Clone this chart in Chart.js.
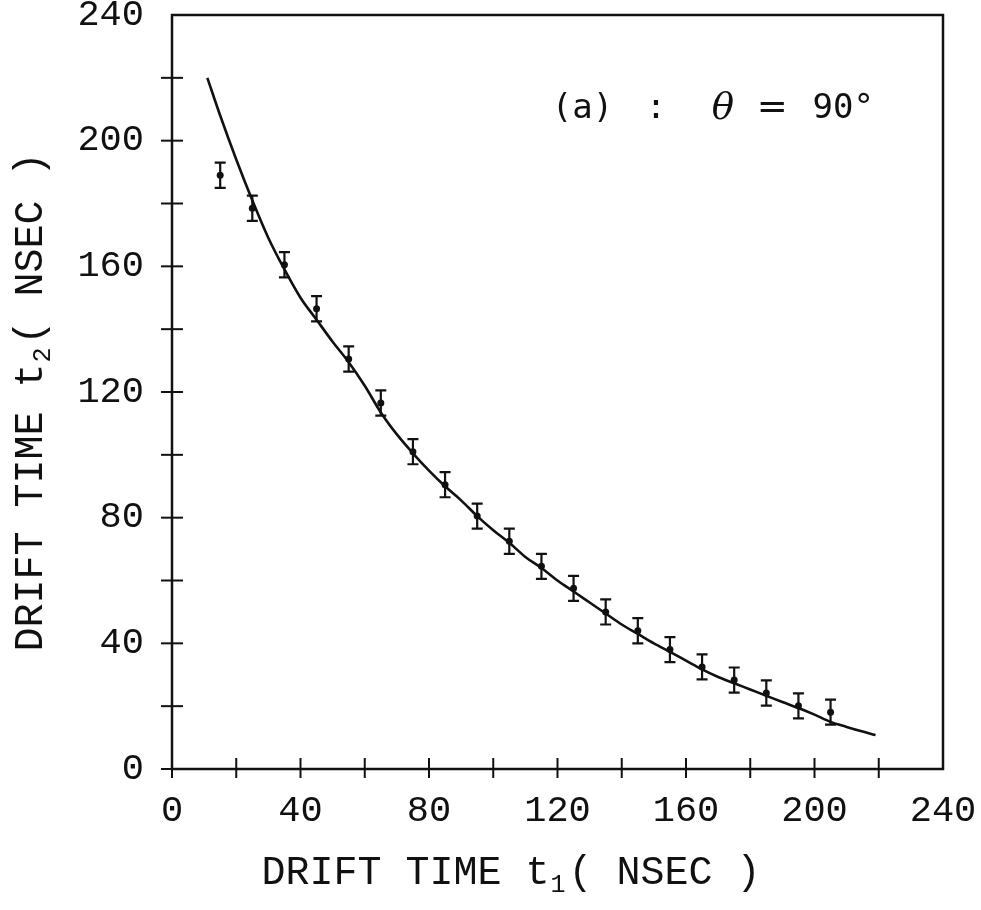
<!DOCTYPE html>
<html>
<head>
<meta charset="utf-8">
<script src="https://cdn.jsdelivr.net/npm/chart.js@4.4.1/dist/chart.umd.min.js"></script>
<style>
  html, body { margin: 0; padding: 0; background: #fff; }
  canvas { display: block; }
</style>
</head>
<body>
<canvas id="drift-chart" width="981" height="910"></canvas>
<script>
// measured points (t1, t2) with error bars
const t1Points = [15, 25, 35, 45, 55, 65, 75, 85, 95, 105, 115, 125, 135, 145, 155, 165, 175, 185, 195, 205];
const t2Points = [189, 178.5, 160.5, 146.5, 130.5, 116.5, 101, 90.5, 80.5, 72.5, 64.5, 57.5, 50, 44, 38, 32.5, 28.3, 24.2, 20.1, 18.1];
const t2Errors = [4, 4, 4, 4, 4, 4, 4, 4, 4, 4, 4, 4, 4, 4, 4, 4, 4, 4, 4, 4];

// fitted curve
const curveT1 = [11, 15, 20, 25, 30, 35, 40, 45, 50, 55, 60, 65, 70, 75, 80, 85, 90, 95, 100, 105, 110, 115, 120, 125, 130, 135, 140, 145, 150, 155, 160, 165, 170, 175, 180, 185, 190, 195, 200, 205, 210, 215, 219];
const curveT2 = [220, 208, 194, 181, 169, 159, 150, 143, 136, 129.5, 122, 113.5, 106.5, 100.5, 95, 90, 85.5, 80.5, 76, 72, 67.5, 64, 60, 56.5, 53, 49.5, 46, 43, 40, 37.3, 34.5, 31.7, 29.3, 27.3, 25.3, 23.3, 21.3, 19.4, 17.3, 15, 13.4, 11.9, 10.8];

const tickValues = [0, 20, 40, 60, 80, 100, 120, 140, 160, 180, 200, 220, 240];
const tickLabels = ['0', '', '40', '', '80', '', '120', '', '160', '', '200', '', '240'];

const xTitle = ['DRIFT TIME t', '1', '( NSEC )'];
const yTitle = ['DRIFT TIME t', '2', '( NSEC )'];

const MONO = '"Liberation Mono", "DejaVu Sans Mono", monospace';
const INK = '#111';

const pointData = t1Points.map((x, i) => ({ x: x, y: t2Points[i] }));
const curveData = curveT1.map((x, i) => ({ x: x, y: curveT2[i] }));

// frame + crossing tick marks
const framePlugin = {
    id: 'frame',
    afterDraw(chart) {
        const { ctx, chartArea, scales } = chart;
        ctx.save();
        ctx.strokeStyle = INK;
        ctx.lineWidth = 2.5;
        ctx.strokeRect(chartArea.left, chartArea.top, chartArea.right - chartArea.left, chartArea.bottom - chartArea.top);
        ctx.lineWidth = 2;
        tickValues.forEach(v => {
            if (v === 240) return;
            const px = scales.x.getPixelForValue(v);
            ctx.beginPath();
            ctx.moveTo(px, chartArea.bottom - 11);
            ctx.lineTo(px, chartArea.bottom + 9);
            ctx.stroke();
            const py = scales.y.getPixelForValue(v);
            ctx.beginPath();
            ctx.moveTo(chartArea.left - 11, py);
            ctx.lineTo(chartArea.left + 11, py);
            ctx.stroke();
        });
        ctx.restore();
    }
};

// vertical error bars with caps
const errorBarPlugin = {
    id: 'errorBars',
    afterDatasetsDraw(chart) {
        const { ctx, scales } = chart;
        const meta = chart.getDatasetMeta(0);
        ctx.save();
        ctx.strokeStyle = INK;
        ctx.lineWidth = 2.2;
        meta.data.forEach((pt, i) => {
            const x = pt.x;
            const yHi = scales.y.getPixelForValue(t2Points[i] + t2Errors[i]);
            const yLo = scales.y.getPixelForValue(t2Points[i] - t2Errors[i]);
            ctx.beginPath();
            ctx.moveTo(x, yHi);
            ctx.lineTo(x, yLo);
            ctx.moveTo(x - 5.5, yHi);
            ctx.lineTo(x + 5.5, yHi);
            ctx.moveTo(x - 5.5, yLo);
            ctx.lineTo(x + 5.5, yLo);
            ctx.stroke();
        });
        ctx.restore();
    }
};

// axis titles with subscripts + the panel label
function drawSubTitle(ctx, parts, cx, cy) {
    const big = '40px ' + MONO;
    const small = '25px ' + MONO;
    ctx.font = big;
    const w0 = ctx.measureText(parts[0]).width;
    const w2 = ctx.measureText(parts[2]).width;
    ctx.font = small;
    const w1 = ctx.measureText(parts[1]).width + 4;
    let x = cx - (w0 + w1 + w2) / 2;
    ctx.textBaseline = 'alphabetic';
    ctx.textAlign = 'left';
    ctx.font = big;
    ctx.fillText(parts[0], x, cy);
    x += w0;
    ctx.font = small;
    ctx.fillText(parts[1], x + 1, cy + 8);
    x += w1;
    ctx.font = big;
    ctx.fillText(parts[2], x, cy);
}

const textPlugin = {
    id: 'texts',
    afterDraw(chart) {
        const { ctx, scales } = chart;
        ctx.save();
        ctx.fillStyle = INK;
        drawSubTitle(ctx, xTitle, 511, 884);
        ctx.save();
        ctx.translate(42, 402);
        ctx.rotate(-Math.PI / 2);
        drawSubTitle(ctx, yTitle, 0, 0);
        ctx.restore();

        const ty = scales.y.getPixelForValue(210);
        ctx.textBaseline = 'middle';
        ctx.textAlign = 'left';
        ctx.font = '34px "DejaVu Sans Mono", monospace';
        ctx.fillText('(a)', scales.x.getPixelForValue(118.2), ty);
        ctx.fillText(':', scales.x.getPixelForValue(147.5), ty);
        ctx.font = 'italic 37px "DejaVu Serif", serif';
        ctx.fillText('\u03B8', scales.x.getPixelForValue(168), ty);
        ctx.font = '37px "DejaVu Serif", serif';
        ctx.fillText('=', scales.x.getPixelForValue(182), ty);
        ctx.font = '34px "DejaVu Sans Mono", monospace';
        ctx.fillText('90\u00B0', scales.x.getPixelForValue(199.4), ty);
        ctx.restore();
    }
};

function noEdgePadding(scale) {
    scale.paddingTop = 0;
    scale.paddingBottom = 0;
    scale.paddingLeft = 0;
    scale.paddingRight = 0;
}

new Chart(document.getElementById('drift-chart').getContext('2d'), {
    type: 'scatter',
    data: {
        datasets: [{
            label: 'measured',
            data: pointData,
            pointRadius: 3.5,
            pointBackgroundColor: INK,
            pointBorderWidth: 0,
            showLine: false
        }, {
            label: 'fit',
            data: curveData,
            showLine: true,
            pointRadius: 0,
            borderColor: INK,
            borderWidth: 2.6,
            cubicInterpolationMode: 'monotone'
        }]
    },
    options: {
        responsive: false,
        animation: false,
        layout: { autoPadding: false, padding: { top: 15, right: 38, left: 0, bottom: 0 } },
        plugins: {
            legend: { display: false },
            tooltip: { enabled: false }
        },
        scales: {
            x: {
                type: 'linear',
                min: 0,
                max: 240,
                afterFit(scale) { scale.height = 141; noEdgePadding(scale); },
                afterBuildTicks(scale) { scale.ticks = tickValues.map(v => ({ value: v })); },
                grid: { display: false, drawTicks: false },
                border: { display: false },
                ticks: {
                    autoSkip: false,
                    maxRotation: 0,
                    padding: 20,
                    color: INK,
                    font: { family: MONO, size: 37 },
                    callback: (v) => tickLabels[tickValues.indexOf(v)]
                }
            },
            y: {
                type: 'linear',
                min: 0,
                max: 240,
                afterFit(scale) { scale.width = 172; noEdgePadding(scale); },
                afterBuildTicks(scale) { scale.ticks = tickValues.map(v => ({ value: v })); },
                grid: { display: false, drawTicks: false },
                border: { display: false },
                ticks: {
                    autoSkip: false,
                    padding: 28,
                    color: INK,
                    font: { family: MONO, size: 37 },
                    callback: (v) => tickLabels[tickValues.indexOf(v)]
                }
            }
        }
    },
    plugins: [framePlugin, errorBarPlugin, textPlugin]
});
</script>
</body>
</html>
